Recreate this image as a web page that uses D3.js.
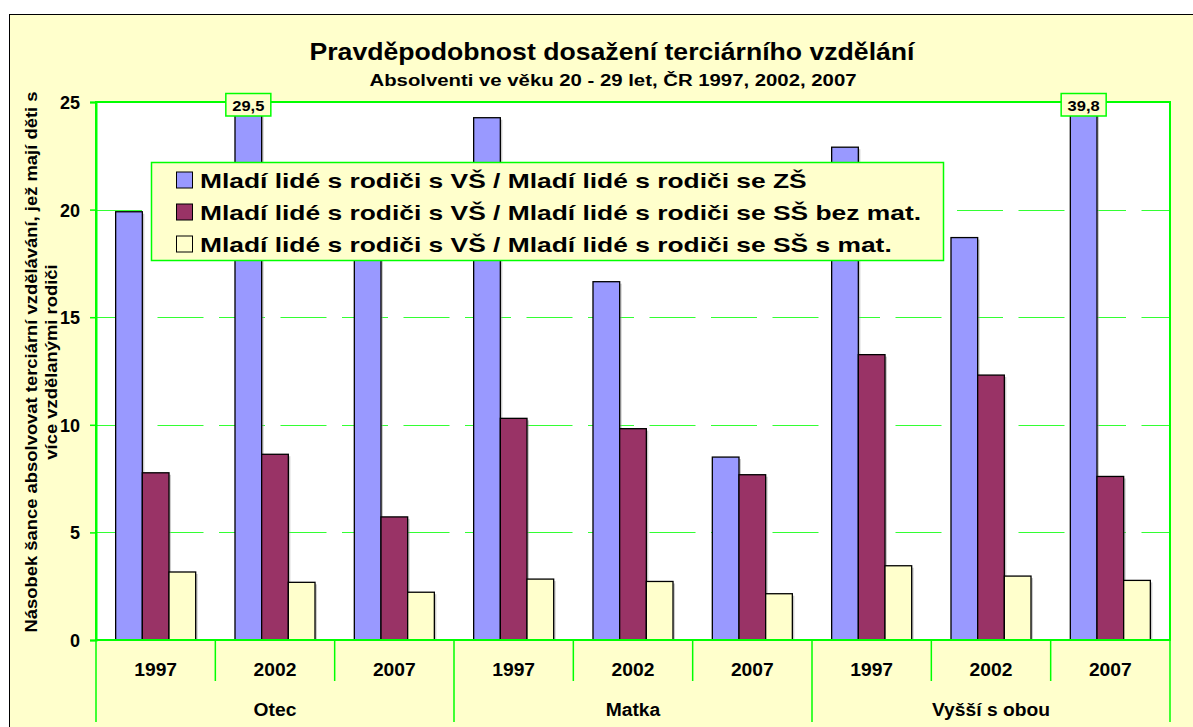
<!DOCTYPE html>
<html><head><meta charset="utf-8">
<script src="https://cdn.jsdelivr.net/npm/d3@7"></script>
<style>body{margin:0;background:#fff}svg{display:block;font-family:"Liberation Sans",Arial,sans-serif}</style>
</head><body>
<svg id="c" width="1193" height="727"></svg>
<script>
const years = ["1997","2002","2007"];
const groups = ["Otec","Matka","Vyšší s obou"];
const seriesNames = [
  "Mladí lidé s rodiči s VŠ / Mladí lidé s rodiči se ZŠ",
  "Mladí lidé s rodiči s VŠ / Mladí lidé s rodiči se SŠ bez mat.",
  "Mladí lidé s rodiči s VŠ / Mladí lidé s rodiči se SŠ s mat."
];
const seriesZS = [19.9, 29.5, 18.5, 24.27, 16.65, 8.5, 22.9, 18.7, 39.8];
const seriesSSbez = [7.77, 8.63, 5.72, 10.3, 9.82, 7.68, 13.26, 12.31, 7.6];
const seriesSSs = [3.16, 2.68, 2.22, 2.83, 2.72, 2.15, 3.45, 2.97, 2.77];
const yTicks = [0, 5, 10, 15, 20, 25];
const colors = ["#9999FF", "#993366", "#FFFFCC"];

const title = "Pravděpodobnost dosažení terciárního vzdělání";
const subtitle = "Absolventi ve věku 20 - 29 let, ČR 1997, 2002, 2007";
const yLabel = ["Násobek šance absolvovat terciární vzdělávání, jež mají děti s", "více vzdělanými rodiči"];

const allSeries = [seriesZS, seriesSSbez, seriesSSs];
const cats = [];
groups.forEach((g, gi) => years.forEach((y, yi) => cats.push({group: g, year: y, idx: gi*3+yi})));

const svg = d3.select("#c");
const green = "#00FF00";
const L = 96, R = 1170, T = 102, B = 640;

// stretch text horizontally by factor k
function widen(sel, k) {
  sel.each(function() {
    const w = this.getComputedTextLength();
    d3.select(this).attr("textLength", w * k).attr("lengthAdjust", "spacingAndGlyphs");
  });
}

svg.append("rect").attr("x",0).attr("y",0).attr("width",1193).attr("height",727).attr("fill","#fff");
svg.append("rect").attr("x",9.5).attr("y",14.5).attr("width",1200).attr("height",800)
  .attr("fill","#FFFFCC").attr("stroke","#000").attr("stroke-width",1);

const x = d3.scaleBand().domain(cats.map(c=>c.idx)).range([L,R]).padding(0);
const xi = d3.scaleBand().domain([0,1,2]).range([0,x.bandwidth()]).paddingInner(0).paddingOuter(0.737);
const y = d3.scaleLinear().domain([0,25]).range([B,T]);

// plot area
svg.append("rect").attr("x",L).attr("y",T).attr("width",R-L).attr("height",B-T).attr("fill","#fff");

// gridlines
svg.append("g").selectAll("line").data(yTicks.filter(t=>t>0 && t<25)).join("line")
  .attr("x1",L).attr("x2",R).attr("y1",d=>Math.round(y(d))+0.5).attr("y2",d=>Math.round(y(d))+0.5)
  .attr("stroke","#33FF33").attr("stroke-width",1.2).attr("stroke-dasharray","46,15.5");

svg.append("defs").append("clipPath").attr("id","pc").append("rect")
  .attr("x",L).attr("y",T).attr("width",R-L).attr("height",B-T);

const bars = svg.append("g").attr("clip-path","url(#pc)");
allSeries.forEach((s, si) => {
  bars.append("g").selectAll("rect").data(cats).join("rect")
    .attr("x", d=>x(d.idx)+xi(si)+2).attr("y", d=>y(s[d.idx])+2)
    .attr("width", xi.bandwidth()).attr("height", d=>B-y(s[d.idx]))
    .attr("fill","#999").attr("opacity",0.5);
  bars.append("g").selectAll("rect").data(cats).join("rect")
    .attr("x", d=>x(d.idx)+xi(si)).attr("y", d=>y(s[d.idx]))
    .attr("width", xi.bandwidth()).attr("height", d=>B-y(s[d.idx]))
    .attr("fill", colors[si]).attr("stroke","#000").attr("stroke-width",1.3);
});

// plot border
svg.append("rect").attr("x",L).attr("y",T).attr("width",R-L).attr("height",B-T)
  .attr("fill","none").attr("stroke",green).attr("stroke-width",2);

// y axis
const yAxis = d3.axisLeft(y).tickValues(yTicks).tickSize(6).tickPadding(10).tickFormat(d3.format("d"));
const ya = svg.append("g").attr("transform",`translate(${L},0)`).call(yAxis);
ya.select(".domain").attr("stroke",green).attr("stroke-width",2);
ya.selectAll(".tick line").attr("stroke",green).attr("stroke-width",1.5);
ya.selectAll(".tick text").attr("font-size",18).attr("font-weight","bold").attr("fill","#000")
  .attr("font-family","'Liberation Sans',Arial,sans-serif").attr("dy","0.36em");

// x axis: year labels and separators
const xa = svg.append("g");
xa.selectAll("text.yr").data(cats).join("text").attr("class","yr")
  .attr("x", d=>x(d.idx)+x.bandwidth()/2).attr("y", 676)
  .attr("text-anchor","middle").attr("font-size",17.5).attr("font-weight","bold").text(d=>d.year)
  .call(widen, 1.1);
xa.selectAll("line.sep").data(cats.concat([{idx:9}])).join("line").attr("class","sep")
  .attr("x1", d=> d.idx===9 ? R : x(d.idx)).attr("x2", d=> d.idx===9 ? R : x(d.idx))
  .attr("y1", B).attr("y2", d=> d.idx%3===0 ? 722 : 681)
  .attr("stroke",green).attr("stroke-width",1.5);
const gx = d3.scaleBand().domain(groups).range([L,R]);
xa.selectAll("text.gr").data(groups).join("text").attr("class","gr")
  .attr("x", d=>gx(d)+gx.bandwidth()/2).attr("y", 716)
  .attr("text-anchor","middle").attr("font-size",17.5).attr("font-weight","bold").text(d=>d)
  .call(widen, 1.1);

// data labels for clipped values
const fmt = v => String(v.toFixed(1)).replace(".", ",");
const over = cats.filter(d => seriesZS[d.idx] > 25);
const lbl = svg.append("g");
over.forEach(d => {
  const cx = x(d.idx)+xi(0)+xi.bandwidth()/2;
  lbl.append("rect").attr("x",cx-22.5).attr("y",93.5).attr("width",45).attr("height",22.5)
    .attr("fill","#FFFFCC").attr("stroke",green).attr("stroke-width",1.5);
  lbl.append("text").attr("x",cx).attr("y",110.5).attr("text-anchor","middle")
    .attr("font-size",15).attr("font-weight","bold").text(fmt(seriesZS[d.idx])).call(widen, 1.1);
});

// legend
const lg = svg.append("g");
lg.append("rect").attr("x",151.5).attr("y",162.5).attr("width",792).attr("height",98)
  .attr("fill","#FFFFCC").attr("stroke",green).attr("stroke-width",1.5);
const lgTexts = [];
seriesNames.forEach((n, i) => {
  const cy = 180 + i*32;
  lg.append("rect").attr("x",176.5).attr("y",cy-8).attr("width",16).attr("height",16)
    .attr("fill",colors[i]).attr("stroke","#000").attr("stroke-width",1);
  lgTexts.push(lg.append("text").attr("x",200).attr("y",cy+7.5).attr("font-size",21).attr("font-weight","bold").text(n).node());
});
const kLeg = 721 / lgTexts[1].getComputedTextLength();
lgTexts.forEach(t => d3.select(t).call(widen, kLeg));

// titles
const tt = svg.append("text").attr("x",612).attr("y",60).attr("text-anchor","middle")
  .attr("font-size",24).attr("font-weight","bold").text(title);
tt.call(widen, 605 / tt.node().getComputedTextLength());
const st = svg.append("text").attr("x",613).attr("y",86).attr("text-anchor","middle")
  .attr("font-size",16).attr("font-weight","bold").text(subtitle);
st.call(widen, 487 / st.node().getComputedTextLength());

// y label
const yl = svg.append("text").attr("transform","translate(37,362) rotate(-90)")
  .attr("text-anchor","middle").attr("font-size",17).attr("font-weight","bold");
const t1 = yl.append("tspan").attr("x",0).attr("dy",0).text(yLabel[0]);
const t2 = yl.append("tspan").attr("x",0).attr("dy",20).text(yLabel[1]);
const kY = 541 / t1.node().getComputedTextLength();
t1.call(widen, kY); t2.call(widen, kY);
</script>
</body></html>
